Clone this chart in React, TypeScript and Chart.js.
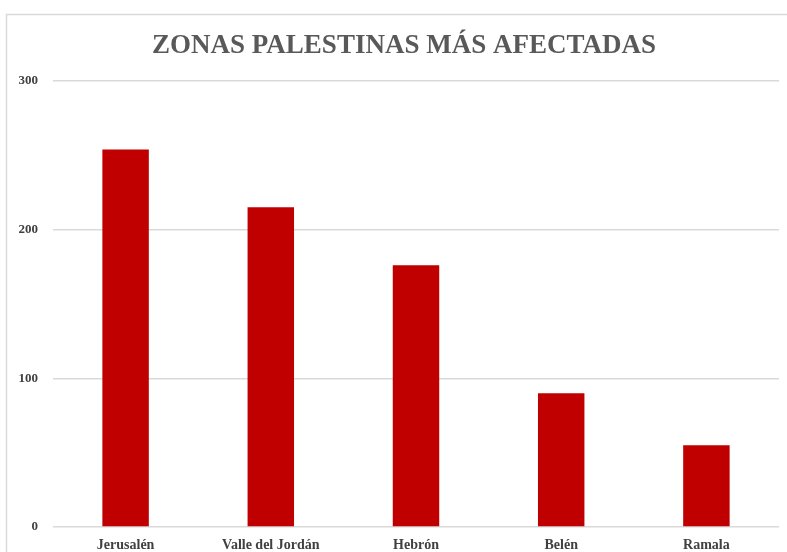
import React, { useEffect, useRef } from "react";
import { Chart, registerables } from "chart.js";

Chart.register(...registerables);

const titleText = "ZONAS PALESTINAS MÁS AFECTADAS";
const categories = ["Jerusalén", "Valle del Jordán", "Hebrón", "Belén", "Ramala"];
const values = [254, 215, 176, 90, 55];
const yTicks = [0, 100, 200, 300];

const FONT = "'Liberation Serif', 'DejaVu Serif', serif";

const framePlugin = {
  id: "frame",
  beforeDraw(chart: any) {
    const ctx = chart.ctx;
    ctx.save();
    ctx.fillStyle = "#ffffff";
    ctx.fillRect(0, 0, chart.width, chart.height);
    ctx.strokeStyle = "#d9d9d9";
    ctx.lineWidth = 1.5;
    ctx.strokeRect(6.5, 14.5, chart.width + 20, chart.height + 20);
    ctx.restore();
  },
  afterDraw(chart: any) {
    const ctx = chart.ctx;
    ctx.save();
    ctx.fillStyle = "#595959";
    ctx.font = "bold 27px " + FONT;
    ctx.textAlign = "center";
    ctx.textBaseline = "middle";
    ctx.fillText(titleText, 404, 46);
    ctx.restore();
  },
};

export default function App() {
  const ref = useRef<HTMLCanvasElement | null>(null);
  useEffect(() => {
    if (!ref.current) return;
    const chart = new Chart(ref.current, {
      type: "bar",
      data: {
        labels: categories,
        datasets: [
          {
            data: values,
            backgroundColor: "#c00000",
            borderWidth: 0,
            barPercentage: 0.32,
            categoryPercentage: 1,
          },
        ],
      },
      options: {
        animation: false,
        responsive: false,
        maintainAspectRatio: false,
        layout: { padding: { left: 0, right: 8, top: 81, bottom: 0 } },
        plugins: {
          legend: { display: false },
          tooltip: { enabled: false },
          title: { display: false },
        },
        scales: {
          x: {
            grid: { display: false, drawTicks: false },
            border: { display: false },
            ticks: {
              color: "#404040",
              padding: 10,
              font: { family: FONT, size: 14, weight: "bold" },
            },
            afterFit(scale: any) {
              scale.height = 25;
            },
          },
          y: {
            min: 0,
            max: 300,
            afterBuildTicks(scale: any) {
              scale.ticks = yTicks.map((v) => ({ value: v }));
            },
            grid: { color: "#d9d9d9", lineWidth: 1.5, drawTicks: false },
            border: { display: false },
            ticks: {
              color: "#404040",
              padding: 15,
              font: { family: FONT, size: 13, weight: "bold" },
            },
            afterFit(scale: any) {
              scale.width = 53;
            },
          },
        },
      } as any,
      plugins: [framePlugin],
    });
    return () => chart.destroy();
  }, []);
  return (
    <div style={{ position: "fixed", left: 0, top: 0, width: 787, height: 552 }}>
      <canvas ref={ref} width={787} height={552} style={{ display: "block" }} />
    </div>
  );
}
